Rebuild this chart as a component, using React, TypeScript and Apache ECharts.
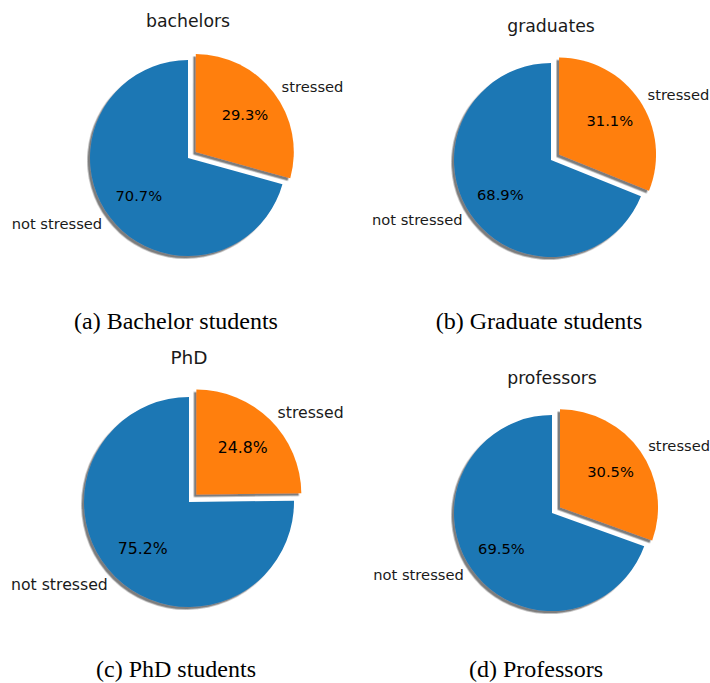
import React, { useEffect, useRef } from 'react';
import * as echarts from 'echarts';

const groups = ['bachelors', 'graduates', 'PhD', 'professors'];
const captions = ['(a) Bachelor students', '(b) Graduate students', '(c) PhD students', '(d) Professors'];
const categories = ['stressed', 'not stressed'];
const stressed = [29.3, 31.1, 24.8, 30.5];
const notStressed = [70.7, 68.9, 75.2, 69.5];
const colors = ['#ff7f0e', '#1f77b4'];

const panels = [
  { cx: 188, cy: 158, r: 98, titleY: 21, capX: 176, capY: 321, scale: 1 },
  { cx: 551, cy: 160, r: 97, titleY: 26, capX: 539, capY: 321, scale: 1 },
  { cx: 189, cy: 502, r: 105, titleY: 357, capX: 176, capY: 669, scale: 1.07 },
  { cx: 552, cy: 513, r: 98, titleY: 378, capX: 536, capY: 669, scale: 1 },
];

const sans = 'DejaVu Sans';
const serif = 'Liberation Serif';

export default function App() {
  const ref = useRef<HTMLDivElement>(null);
  useEffect(() => {
    document.body.style.margin = '0';
    const chart = echarts.init(ref.current!, null, { renderer: 'svg' });
    const series: any[] = [];
    const graphic: any[] = [];
    groups.forEach((g, i) => {
      const p = panels[i];
      const fs = 14.7 * p.scale;
      const vals = [stressed[i], notStressed[i]];
      const makeData = (shadow: boolean) =>
        categories.map((c, k) => ({
          name: c,
          value: vals[k],
          selected: k === 0,
          itemStyle: shadow
            ? {
                color: colors[k],
                shadowColor: 'rgba(40,40,40,0.6)',
                shadowBlur: 1.5,
                shadowOffsetX: -2.5,
                shadowOffsetY: 2.5,
              }
            : { color: 'rgba(0,0,0,0)' },
        }));
      series.push({
        type: 'pie',
        center: [p.cx, p.cy],
        radius: [0, p.r],
        startAngle: 90,
        clockwise: true,
        selectedMode: 'multiple',
        selectedOffset: p.r * 0.1,
        avoidLabelOverlap: false,
        silent: true,
        percentPrecision: 1,
        data: makeData(true),
        label: {
          show: true,
          position: 'outside',
          formatter: '{b}',
          fontFamily: sans,
          fontSize: fs,
          color: '#1a1a1a',
          distanceToLabelLine: 0,
        },
        labelLine: { show: false, length: p.r * 0.1, length2: 0 },
        emphasis: { disabled: true },
        select: { itemStyle: { borderWidth: 0 }, label: { color: '#1a1a1a' } },
      });
      series.push({
        type: 'pie',
        center: [p.cx, p.cy],
        radius: [0, p.r * 1.2],
        startAngle: 90,
        clockwise: true,
        selectedMode: 'multiple',
        selectedOffset: p.r * 0.1,
        avoidLabelOverlap: false,
        silent: true,
        percentPrecision: 1,
        data: makeData(false),
        label: {
          show: true,
          position: 'inside',
          formatter: '{d}%',
          fontFamily: sans,
          fontSize: fs,
          color: '#000',
          textBorderWidth: 0,
        },
        labelLine: { show: false },
        emphasis: { disabled: true },
        select: { itemStyle: { borderWidth: 0, color: 'rgba(0,0,0,0)' }, label: { color: '#000' } },
      });
      graphic.push({
        type: 'text',
        x: p.cx,
        y: p.titleY,
        style: {
          text: g,
          align: 'center',
          verticalAlign: 'middle',
          fontFamily: sans,
          fontSize: 17.3 * p.scale,
          fill: '#1a1a1a',
        },
      });
      graphic.push({
        type: 'text',
        x: p.capX,
        y: p.capY,
        style: {
          text: captions[i],
          align: 'center',
          verticalAlign: 'middle',
          fontFamily: serif,
          fontSize: 24,
          fill: '#000',
        },
      });
    });
    chart.setOption({
      animation: false,
      backgroundColor: '#fff',
      series,
      graphic,
    });
    return () => chart.dispose();
  }, []);
  return <div ref={ref} style={{ width: 710, height: 683 }} />;
}
